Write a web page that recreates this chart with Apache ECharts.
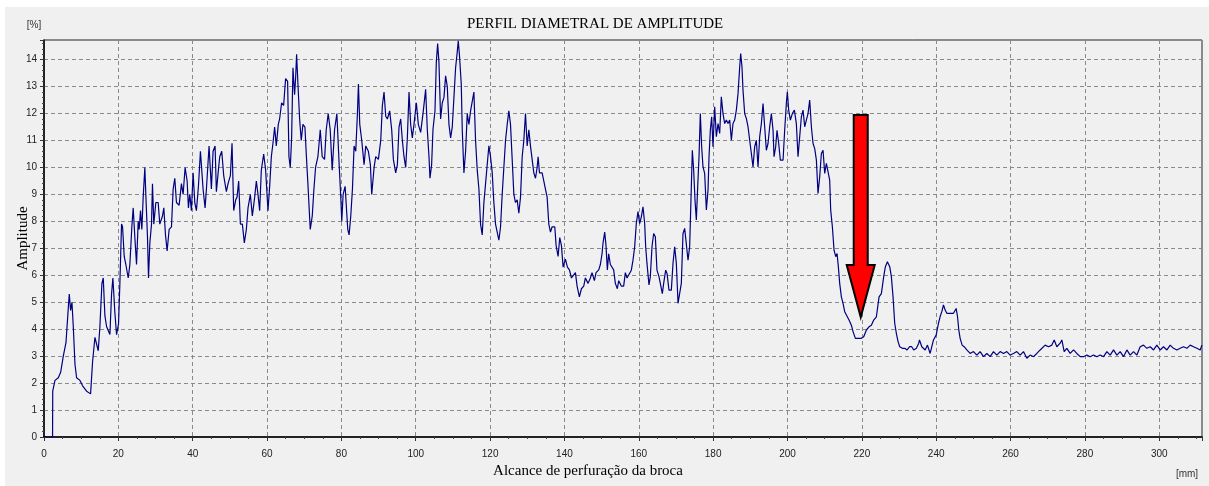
<!DOCTYPE html>
<html>
<head>
<meta charset="utf-8">
<script src="https://cdn.jsdelivr.net/npm/echarts@6/dist/echarts.min.js"></script>
<style>
  html, body { margin: 0; padding: 0; background: #ffffff; }
  #chart { width: 1209px; height: 486px; }
</style>
</head>
<body>
<div id="chart"></div>
<script>
// Alcance de perfuração (mm)
const distanceMm = [
  0, 2.3, 2.35, 2.95, 3.85, 4.48, 5.19, 5.91, 6.54, 6.8,
  7.16, 7.52, 7.88, 8.33, 8.77, 9.67, 10.38, 11.46, 12.53, 13.07,
  13.7, 14.59, 15.04, 15.58, 15.94, 16.38, 16.83, 17.73, 18.17, 18.53,
  19.07, 19.52, 20.05, 20.41, 20.86, 21.13, 21.58, 22.02, 22.65, 23.1,
  23.63, 23.99, 24.44, 24.89, 25.34, 25.6, 25.96, 26.32, 26.68, 27.13,
  27.39, 27.84, 28.11, 28.47, 28.92, 29.18, 29.54, 30.08, 30.71, 31.15,
  31.87, 32.23, 32.68, 33.12, 33.66, 34.29, 34.74, 35.18, 35.63, 36.35,
  36.97, 37.42, 37.96, 38.5, 38.85, 39.21, 39.66, 40.11, 40.56, 41.0,
  41.54, 42.08, 42.44, 42.79, 43.33, 43.69, 44.4, 45.03, 45.48, 46.02,
  46.37, 46.91, 47.27, 47.81, 48.34, 49.06, 49.51, 50.13, 50.58, 51.03,
  51.57, 51.93, 52.37, 52.82, 53.36, 53.89, 54.43, 54.88, 55.51, 56.04,
  56.67, 57.12, 57.56, 58.01, 58.46, 59.09, 59.62, 60.25, 60.7, 61.15,
  61.59, 62.04, 62.49, 63.03, 63.38, 63.92, 64.46, 64.99, 65.53, 65.89,
  66.25, 66.61, 66.97, 67.41, 67.68, 67.95, 68.31, 68.76, 69.2, 69.65,
  70.19, 70.55, 70.99, 71.62, 72.16, 72.61, 73.05, 73.68, 74.31, 74.84,
  75.47, 75.92, 76.45, 76.99, 77.53, 78.16, 78.78, 79.4, 79.83,
  80.1, 80.46, 81.0, 81.36, 81.71, 82.07, 82.52, 82.97, 83.41, 83.86,
  84.31, 84.58, 84.94, 85.47, 86.1, 86.55, 87.26, 87.8, 88.16, 88.79,
  89.23, 89.95, 90.58, 91.02, 91.47, 91.92, 92.37, 92.99, 93.53, 93.98,
  94.6, 95.05, 95.5, 95.95, 96.4, 96.84, 97.29, 97.74, 98.19, 98.63,
  99.08, 99.53, 100.16, 100.69, 101.32, 101.95, 102.66, 103.11, 103.56, 103.83,
  104.27, 104.63, 105.17, 105.53, 105.89, 106.24, 106.69, 107.14, 107.59, 108.03,
  108.48, 108.93, 109.38, 109.82, 110.27, 110.72, 111.17, 111.44, 111.79, 112.24,
  112.51, 112.96, 113.41, 113.85, 114.3, 114.75, 115.2, 115.64, 116.09, 116.54,
  116.99, 117.43, 117.88, 118.33, 118.78, 119.22, 119.67, 120.12, 120.57, 121.01,
  121.46, 121.91, 122.36, 122.81, 123.25, 123.7, 124.15, 124.6, 125.04, 125.49,
  125.94, 126.39, 126.83, 127.28, 127.73, 128.18, 128.63, 129.07, 129.52, 129.97,
  130.42, 130.86, 131.31, 131.76, 132.21, 132.65, 132.92, 133.28, 134.0, 134.44,
  134.89, 135.34, 135.79, 136.24, 136.68, 137.4, 137.76, 138.29, 138.74, 139.19,
  139.64, 140.26, 140.8, 141.34, 141.88, 142.41, 142.95, 143.4, 144.02, 144.56,
  145.19, 145.63, 146.35, 146.98, 147.42, 148.05, 148.5, 149.22, 149.66, 150.11,
  150.38, 150.83, 151.18, 151.54, 151.9, 152.35, 152.8, 153.24, 153.69, 154.23,
  154.59, 155.3, 155.93, 156.38, 156.83, 157.27,
  157.99, 158.44, 158.89, 159.33, 159.78, 160.23, 160.68, 161.13, 161.58, 161.85,
  162.2, 162.74, 163.1, 163.55, 164.0, 164.45, 164.89, 165.43, 165.79, 166.33,
  166.69, 167.23, 167.59, 168.12, 168.75, 169.2, 169.65, 170.1, 170.55, 170.99,
  171.44, 171.89, 172.34, 172.79, 173.24, 173.68, 174.13, 174.4, 174.76, 175.12,
  175.48, 175.84, 176.2, 176.55, 176.91, 177.27, 177.72, 178.17, 178.62, 178.89,
  179.24, 179.6, 179.96, 180.41, 180.86, 181.31, 181.76, 182.2, 182.65, 183.1,
  183.55, 184.0, 184.45, 184.9, 185.34, 185.79, 186.24, 186.69, 187.14, 187.41,
  187.76, 188.03, 188.48, 188.93, 189.38, 189.83, 190.28, 190.72, 191.17, 191.62,
  192.07, 192.52, 192.97, 193.42, 193.86, 194.31, 194.76, 195.21, 195.66, 196.11,
  196.38, 196.82, 197.18, 197.63, 198.08, 198.8, 199.24, 199.69, 199.96, 200.32,
  200.77, 201.31, 201.85, 202.38, 202.83, 203.28, 203.73, 204.18, 204.63, 205.07,
  205.52, 205.97, 206.42, 206.87, 207.32, 207.77, 208.21, 208.66, 209.11, 209.56,
  210.01, 210.46, 210.9, 211.35, 211.62, 212.07, 212.52, 212.97, 213.33, 213.68,
  214.04, 214.49, 214.94, 215.39, 215.84, 216.55, 217.18, 217.63, 218.26, 218.98,
  219.87, 220.5, 221.22, 221.93, 222.56, 223.19, 223.91, 224.63, 225.25, 225.88,
  226.33, 226.87, 227.5, 227.94, 228.39, 228.84, 229.29, 229.74, 230.19, 230.9,
  231.53, 232.16, 232.87, 233.41, 233.95, 234.67, 235.3,
  235.5, 236.13, 237.03, 237.65, 238.37, 238.82, 239.27, 239.99, 240.61, 241.06,
  241.51, 241.96, 242.41, 242.86, 243.75, 244.65, 245.37, 245.73, 246.08, 246.44,
  246.98, 247.52, 248.24, 249.13, 250.03, 250.93, 251.82, 252.72, 253.62, 254.52,
  255.41, 256.31, 257.21, 258.1, 259.0, 259.9, 260.79, 261.69, 262.59, 263.48,
  264.38, 264.83, 265.28, 266.17, 267.07, 267.97, 268.42, 269.31, 270.21, 271.11,
  271.74, 272.45, 273.35, 273.8, 274.43, 275.14, 276.04, 276.94, 277.83, 278.73,
  279.63, 280.52, 281.42, 282.32, 283.21, 284.11, 285.01, 285.91, 286.8, 287.7,
  288.6, 289.49, 290.39, 291.29, 292.18, 293.08, 293.98, 294.87, 295.77, 296.67,
  297.56, 298.46, 299.36, 300.25, 301.15, 302.05, 302.95, 303.84, 304.74, 305.63,
  306.53, 307.43, 308.33, 309.22, 310.12, 311.02, 311.47
]

// Amplitude (%)
const amplitudePct = [
  0, 0, 1.7, 2.1, 2.2, 2.4, 3.0, 3.5, 4.8, 5.3,
  4.7, 5.0, 4.1, 2.7, 2.2, 2.1, 1.9, 1.7, 1.6, 2.8,
  3.7, 3.2, 4.1, 5.7, 5.9, 4.5, 4.1, 3.8, 5.3, 5.9,
  4.6, 3.8, 4.2, 5.7, 7.9, 7.8, 6.7, 6.4, 5.9, 6.4,
  7.8, 8.5, 7.4, 6.4, 8.0, 7.7, 8.4, 7.7, 8.9, 10.0,
  9.0, 7.4, 5.9, 7.2, 7.9, 9.4, 7.9, 8.7, 8.7, 7.9,
  8.2, 8.5, 7.5, 6.9, 7.7, 7.8, 9.2, 9.6, 8.7, 8.6,
  9.4, 9.0, 10.0, 9.5, 8.5, 9.0, 8.4, 9.8, 8.7, 8.4,
  9.3, 10.6, 10.6, 9.2, 8.5, 9.2, 10.8, 9.2, 10.6, 10.8,
  9.1, 9.9, 10.4, 10.6, 9.7, 9.1, 9.4, 9.7, 10.9, 8.4,
  8.8, 8.9, 9.5, 7.9, 7.9, 7.2, 7.7, 8.5, 9.0, 8.2,
  8.9, 9.5, 9.0, 8.4, 9.9, 10.5, 9.9, 8.4, 9.3, 10.4,
  10.9, 11.5, 10.8, 11.6, 11.8, 12.4, 12.3, 13.3, 13.2, 10.4,
  10.0, 11.1, 13.7, 12.7, 13.3, 14.2, 13.1, 11.8, 11.0, 11.6,
  11.5, 10.5, 9.4, 7.7, 8.2, 9.2, 10.0, 10.4, 11.4, 10.4,
  10.3, 11.4, 12.0, 11.4, 9.9, 11.4, 12.0, 10.1, 8.9,
  8.0, 9.0, 9.3, 9.3, 7.7, 7.5, 8.2, 9.2, 10.8, 10.6,
  12.0, 13.1, 11.6, 11.0, 10.1, 10.8, 10.6, 10.1, 9.0, 10.0,
  10.4, 10.3, 11.0, 12.3, 12.8, 11.9, 11.8, 12.1, 11.4, 10.3,
  9.8, 10.1, 11.5, 11.8, 11.0, 10.4, 10.0, 11.1, 12.8, 11.6,
  11.1, 11.6, 12.4, 11.6, 11.3, 12.0, 12.9, 11.4, 10.4, 9.6,
  10.1, 11.4, 12.1, 13.9, 14.6, 13.9, 11.8, 12.4, 12.6, 13.4,
  13.0, 11.6, 11.1, 11.5, 12.6, 13.7, 14.3, 14.7, 14.1, 13.1,
  11.4, 9.8, 10.6, 12.0, 11.6, 12.1, 12.1, 12.8, 11.0, 9.9,
  9.2, 7.9, 7.5, 8.7, 9.4, 10.1, 10.8, 10.4, 9.8, 8.7,
  7.9, 7.6, 7.3, 7.8, 9.0, 10.0, 11.0, 11.6, 12.1, 11.6,
  10.3, 9.0, 8.7, 8.8, 8.3, 8.9, 10.4, 11.0, 12.0, 10.8,
  11.4, 10.8, 10.3, 9.8, 9.6, 10.0, 10.4, 9.8, 9.8, 9.8,
  9.2, 8.9, 7.9, 7.6, 7.8, 7.8, 7.1, 6.7, 7.4, 7.1,
  6.3, 6.6, 6.3, 6.2, 5.9, 5.9, 6.1, 5.6, 5.2, 5.5,
  5.6, 5.9, 5.7, 5.9, 6.1, 5.8, 6.1, 6.2, 6.4, 6.8,
  7.2, 7.6, 7.1, 6.2, 6.8, 6.4, 6.4, 6.2, 5.7, 5.5,
  5.8, 5.6, 5.6, 6.1, 5.9, 5.9,
  6.19, 6.56, 7.06, 7.92, 8.36, 7.92, 8.17, 8.54, 7.92, 7.06,
  6.44, 5.64, 5.95, 7.06, 7.55, 7.43, 6.19, 5.95, 5.95, 5.32,
  5.7, 6.19, 6.07, 5.45, 5.45, 6.44, 7.06, 6.44, 4.96, 4.89,
  5.7, 7.55, 7.74, 7.68, 6.56, 7.06, 9.28, 10.64, 9.9, 8.79,
  8.05, 9.28, 10.4, 12.0, 10.77, 10.02, 9.78, 8.42, 9.16, 10.4,
  11.38, 11.88, 10.77, 12.25, 11.14, 11.63, 11.26, 12.62, 12.0, 11.63,
  11.76, 11.63, 11.76, 11.01, 11.63, 11.76, 12.13, 12.74, 13.73, 14.23,
  13.73, 12.87, 12.0, 11.82, 11.51, 11.01, 10.52, 10.02, 10.77, 11.01,
  10.02, 11.14, 11.63, 12.37, 11.51, 10.64, 10.89, 11.51, 12.0, 11.38,
  10.4, 10.77, 11.38, 10.89, 10.27, 10.27, 11.38, 12.37, 12.81, 12.13,
  11.76, 12.0, 12.13, 11.63, 10.4, 11.14, 11.88, 12.13, 11.51, 11.76,
  12.0, 12.5, 11.51, 10.89, 10.7, 10.27, 9.04, 9.65, 10.52, 10.64,
  9.78, 10.15, 10.21, 9.53, 8.42, 7.8, 6.93, 6.69, 6.81, 6.32,
  5.7, 5.2, 4.96, 4.65, 4.59, 4.34, 4.15, 3.91, 3.66, 3.66,
  3.66, 3.72, 3.97, 4.09, 4.15, 4.34, 4.46, 5.2, 5.32, 5.95,
  6.32, 6.5, 6.32, 5.95, 5.2, 4.22, 3.84, 3.54, 3.35, 3.29,
  3.29, 3.23, 3.35, 3.35, 3.23, 3.29, 3.48,
  3.6, 3.35, 3.23, 3.41, 3.1, 3.35, 3.6, 3.78, 4.22, 4.47,
  4.65, 4.9, 4.71, 4.59, 4.59, 4.59, 4.77, 4.47, 3.97, 3.66,
  3.41, 3.35, 3.23, 3.1, 3.17, 3.04, 3.17, 2.98, 3.1, 2.98,
  3.17, 3.04, 3.17, 3.1, 3.17, 3.04, 3.1, 3.17, 3.04, 3.17,
  2.92, 2.86, 3.04, 2.98, 3.1, 3.23, 3.29, 3.41, 3.35, 3.41,
  3.6, 3.35, 3.48, 3.6, 3.17, 3.29, 3.1, 3.23, 3.1, 2.98,
  2.98, 3.04, 2.98, 3.04, 2.98, 3.04, 2.98, 3.17, 3.04, 3.23,
  3.04, 3.17, 2.98, 3.23, 3.04, 3.17, 3.04, 3.35, 3.41, 3.29,
  3.35, 3.23, 3.41, 3.23, 3.35, 3.23, 3.41, 3.29, 3.23, 3.29,
  3.35, 3.29, 3.41, 3.35, 3.29, 3.23, 3.41
]

// Seta vermelha (coordenadas em mm / %)
const arrowX = 219.7
const arrowTop = 11.95
const arrowNeck = 6.38
const arrowTip = 4.45

const sansFont = 'Liberation Sans, Arial, sans-serif'
const serifFont = 'Liberation Serif, Times New Roman, serif'

const chart = echarts.init(document.getElementById('chart'))

const gridLine = {
  show: true,
  lineStyle: { color: '#8a8a8a', type: [4, 3], width: 1 },
}

chart.setOption({
  animation: false,
  backgroundColor: '#ffffff',
  title: {
    text: 'PERFIL DIAMETRAL DE AMPLITUDE',
    left: 462,
    top: 12,
    textStyle: { fontFamily: serifFont, fontSize: 15, fontWeight: 'normal', color: '#000' },
  },
  grid: {
    left: 44,
    right: 7,
    top: 40,
    bottom: 49,
    outerBoundsMode: 'none',
    containLabel: false,
    show: true,
    borderColor: '#222',
    borderWidth: 1,
  },
  xAxis: {
    type: 'value',
    min: 0,
    max: 311.5,
    interval: 20,
    axisLine: { onZero: false, lineStyle: { color: '#000', width: 1.5 } },
    axisTick: { length: 4, lineStyle: { color: '#333' } },
    minorTick: { show: true, splitNumber: 4, length: 2, lineStyle: { color: '#444' } },
    axisLabel: { margin: 12, showMaxLabel: false, fontFamily: sansFont, fontSize: 10, color: '#222' },
    splitLine: gridLine,
  },
  yAxis: {
    type: 'value',
    min: 0,
    max: 14.73,
    interval: 1,
    name: 'Amplitude',
    nameLocation: 'middle',
    nameGap: 13,
    nameMoveOverlap: false,
    nameTextStyle: { fontFamily: serifFont, fontSize: 15, color: '#000' },
    axisLine: { show: true, lineStyle: { color: '#000', width: 1.5 } },
    axisTick: { show: true, length: 4, lineStyle: { color: '#333' } },
    minorTick: { show: true, splitNumber: 5, length: 2, lineStyle: { color: '#444' } },
    axisLabel: { margin: 7, showMaxLabel: false, fontFamily: sansFont, fontSize: 10, color: '#222' },
    splitLine: gridLine,
  },
  graphic: [
    {
      id: 'panel',
      type: 'rect',
      z: -100,
      silent: true,
      shape: { x: 5, y: 7, width: 1204, height: 479 },
      style: { fill: '#f0f0f0' },
    },
    {
      id: 'unitY',
      type: 'text',
      x: 34,
      y: 25,
      style: { text: '[%]', fontFamily: sansFont, fontSize: 10, fill: '#333', align: 'center', verticalAlign: 'middle' },
    },
    {
      id: 'unitX',
      type: 'text',
      x: 1187,
      y: 474,
      style: { text: '[mm]', fontFamily: sansFont, fontSize: 10, fill: '#333', align: 'center', verticalAlign: 'middle' },
    },
    {
      id: 'nameX',
      type: 'text',
      x: 588,
      y: 471,
      style: { text: 'Alcance de perfuração da broca', fontFamily: serifFont, fontSize: 15, fill: '#000', align: 'center', verticalAlign: 'middle' },
    },
  ],
  series: [
    {
      name: 'Amplitude',
      type: 'line',
      symbol: 'none',
      silent: true,
      lineStyle: { color: '#000080', width: 1.2 },
      data: distanceMm.map((d, i) => [d, amplitudePct[i]]),
    },
  ],
})

// Seta de marcação posicionada pelos eixos
const drawArrow = () => {
  const top = chart.convertToPixel({ gridIndex: 0 }, [arrowX, arrowTop])
  const neck = chart.convertToPixel({ gridIndex: 0 }, [arrowX, arrowNeck])
  const tip = chart.convertToPixel({ gridIndex: 0 }, [arrowX, arrowTip])
  const shaft = 7
  const head = 14
  chart.setOption({
    graphic: [
      {
        id: 'arrow',
        type: 'polygon',
        z: 100,
        silent: true,
        shape: {
          points: [
            [top[0] - shaft, top[1]],
            [top[0] + shaft, top[1]],
            [neck[0] + shaft, neck[1]],
            [neck[0] + head, neck[1]],
            [tip[0], tip[1]],
            [neck[0] - head, neck[1]],
            [neck[0] - shaft, neck[1]],
          ],
        },
        style: { fill: '#ff0000', stroke: '#000', lineWidth: 2 },
      },
    ],
  })
}
drawArrow()
</script>
</body>
</html>
